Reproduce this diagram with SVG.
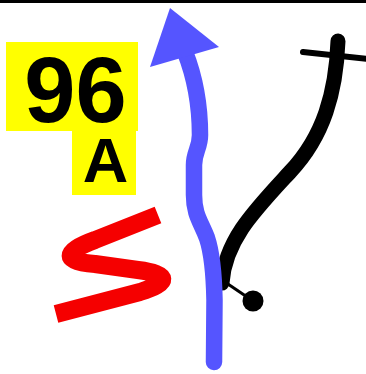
<svg xmlns="http://www.w3.org/2000/svg" width="366" height="374" viewBox="0 0 366 374">
<style>
.box{fill:#ffff00}
.lbl{font-family:"Liberation Sans",Arial,sans-serif;font-weight:bold;fill:#000;text-anchor:middle}
.blue{fill:none;stroke:#5555ff;stroke-width:16.5;stroke-linecap:round;stroke-linejoin:round}
.blk{fill:none;stroke:#000;stroke-linecap:round}
</style>
<rect x="0" y="0" width="366" height="374" fill="#fff"/>
<rect id="topbar" x="0" y="0" width="366" height="3" fill="#000"/>
<g id="exit-number">
<rect class="box" x="6" y="42" width="132" height="89"/>
<text class="lbl" x="75.5" y="122" font-size="92">96</text>
</g>
<g id="exit-letter">
<rect class="box" x="72" y="131" width="64" height="64"/>
<text class="lbl" x="105.5" y="182" font-size="63">A</text>
</g>
<g id="red-s">
<path d="M158,215 L95,240 C62,252 63,262 95,264 L138,270 C170,274 170,283 140,292 L56,314" fill="none" stroke="#f50000" stroke-width="18" stroke-linejoin="round"/>
</g>
<g id="connectors">
<path class="blk" d="M338,41 C336,92 324,136 290,172 C255,210 225,240 222,283" stroke-width="15" stroke-linecap="round"/>
<line class="blk" x1="303" y1="52" x2="372" y2="59.5" stroke-width="6"/>
<line x1="222" y1="280" x2="253" y2="301" stroke="#000" stroke-width="3"/>
<circle cx="253" cy="301" r="10.5" fill="#000"/>
<path class="blue" d="M214,362 L214.5,300 C214,275 211,250 207,238 C201,222 194,215 194,195 L194,165 C194,152 200,148 200,135 C200,105 196,80 185,52"/>
<polygon points="170,8 150,67 219,47" fill="#5555ff"/>
</g>
</svg>
